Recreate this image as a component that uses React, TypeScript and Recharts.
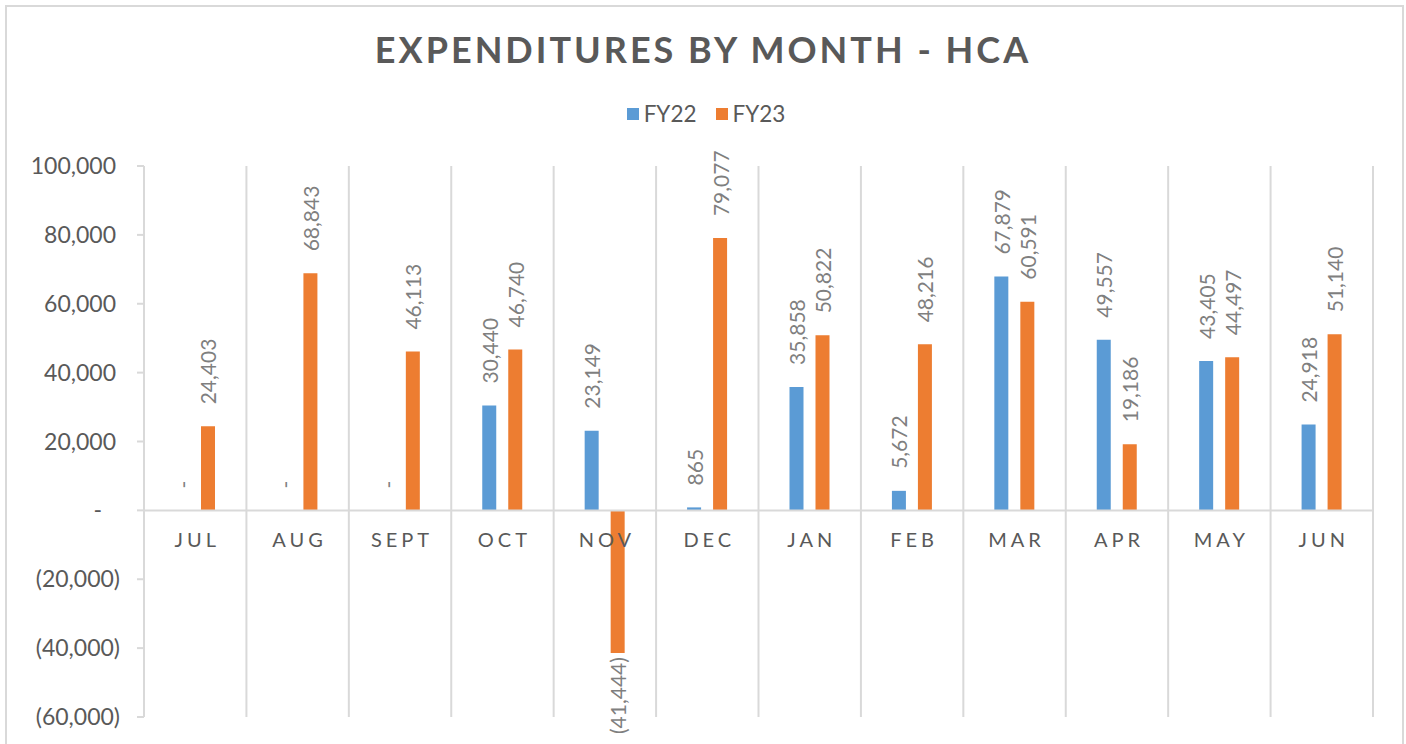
import React from 'react';
import {
  BarChart,
  Bar,
  XAxis,
  YAxis,
  CartesianGrid,
  ReferenceLine,
  LabelList,
} from 'recharts';

const months = ['JUL', 'AUG', 'SEPT', 'OCT', 'NOV', 'DEC', 'JAN', 'FEB', 'MAR', 'APR', 'MAY', 'JUN'];
const fy22 = [0, 0, 0, 30440, 23149, 865, 35858, 5672, 67879, 49557, 43405, 24918];
const fy23 = [24403, 68843, 46113, 46740, -41444, 79077, 50822, 48216, 60591, 19186, 44497, 51140];
const yTicks = [-60000, -40000, -20000, 0, 20000, 40000, 60000, 80000, 100000];
const series = [
  { key: 'fy22', name: 'FY22', color: '#5B9BD5', values: fy22 },
  { key: 'fy23', name: 'FY23', color: '#ED7D31', values: fy23 },
];

const data = months.map((m, i) => ({ month: m, fy22: fy22[i], fy23: fy23[i] }));

const W = 1406;
const H = 744;
const PLOT_TOP = 166;
const PLOT_BOTTOM = 717;
const PLOT_LEFT = 144;
const PLOT_RIGHT = 1373;
const Y_MIN = -60000;
const Y_MAX = 100000;
const ZERO_Y = PLOT_TOP + ((PLOT_BOTTOM - PLOT_TOP) * Y_MAX) / (Y_MAX - Y_MIN);
const BAR_SIZE = 14;
const BAR_GAP = 12;
const LABEL_GAP = 22;
const FONT = 'Lato, "Open Sans", sans-serif';
const GRID = '#d9d9d9';

const fmt = (v: number) => {
  if (v === 0) return '-';
  const s = Math.abs(v).toLocaleString('en-US');
  return v < 0 ? `(${s})` : s;
};

// rotated value label, reading bottom-to-top
const RotLabel = ({ cx, cy, anchor, text }: any) => (
  <text
    x={cx}
    y={cy}
    transform={`rotate(-90, ${cx}, ${cy})`}
    textAnchor={anchor}
    dominantBaseline="central"
    fill="#7f7f7f"
    fontSize={21}
    fontFamily={FONT}
  >
    {text}
  </text>
);

const YTick = (props: any) => {
  const { x, y, payload } = props;
  const v = payload.value;
  const dx = v < 0 ? 4 : v === 0 ? -14 : 0;
  return (
    <text x={x + dx} y={y + 8} textAnchor="end" fill="#595959" fontSize={23} fontFamily={FONT}>
      {fmt(v)}
    </text>
  );
};

// month name on the zero line; zero-height bars get their "-" label here
const XTick = (props: any) => {
  const { x, payload, index } = props;
  return (
    <g>
      <text
        x={x + 2}
        y={ZERO_Y + 37}
        textAnchor="middle"
        fill="#595959"
        fontSize={20}
        fontFamily={FONT}
        letterSpacing={4}
      >
        {payload.value}
      </text>
      {series.map((s, si) => {
        if (s.values[index] !== 0) return null;
        const off = (si - (series.length - 1) / 2) * (BAR_SIZE + BAR_GAP);
        return (
          <RotLabel key={s.key} cx={x + off} cy={ZERO_Y - LABEL_GAP} anchor="start" text="-" />
        );
      })}
    </g>
  );
};

const BarLabel = (props: any) => {
  const { x, y, width, height, value } = props;
  const v = Number(value);
  if (v === 0) return null;
  const cx = x + width / 2;
  if (v < 0) {
    return <RotLabel cx={cx} cy={Math.max(y, y + height) + 4} anchor="end" text={fmt(v)} />;
  }
  return <RotLabel cx={cx} cy={Math.min(y, y + height) - LABEL_GAP} anchor="start" text={fmt(v)} />;
};

export default function App() {
  return (
    <div
      style={{
        position: 'absolute',
        left: 0,
        top: 0,
        width: W,
        height: H,
        overflow: 'hidden',
        background: '#fff',
      }}
    >
      <div
        style={{
          position: 'absolute',
          left: 5,
          top: 5,
          width: 1395,
          height: 800,
          border: `2px solid ${GRID}`,
        }}
      />
      <div
        style={{
          position: 'absolute',
          left: 0,
          top: 27,
          width: W,
          textAlign: 'center',
          fontFamily: FONT,
          fontWeight: 700,
          fontSize: 36,
          letterSpacing: 3,
          color: '#595959',
        }}
      >
        EXPENDITURES BY MONTH - HCA
      </div>
      <div
        style={{
          position: 'absolute',
          left: 3,
          top: 100,
          width: W,
          display: 'flex',
          justifyContent: 'center',
          gap: 19,
          fontFamily: FONT,
          fontSize: 22.5,
          color: '#595959',
        }}
      >
        {series.map((s) => (
          <div key={s.key} style={{ display: 'flex', alignItems: 'center' }}>
            <span style={{ width: 12, height: 12, background: s.color, marginRight: 5 }} />
            <span>{s.name}</span>
          </div>
        ))}
      </div>
      <div style={{ position: 'absolute', left: 0, top: 0 }}>
        <BarChart
          width={W}
          height={H}
          data={data}
          margin={{ top: PLOT_TOP, right: W - PLOT_RIGHT, bottom: H - PLOT_BOTTOM - 20, left: 0 }}
          barSize={BAR_SIZE}
          barGap={BAR_GAP}
        >
          <CartesianGrid
            horizontal={false}
            stroke={GRID}
            strokeWidth={2}
            verticalCoordinatesGenerator={() =>
              Array.from(
                { length: months.length + 1 },
                (_, i) => PLOT_LEFT + (i * (PLOT_RIGHT - PLOT_LEFT)) / months.length
              )
            }
          />
          <XAxis
            dataKey="month"
            height={20}
            axisLine={false}
            tickLine={false}
            tick={<XTick />}
            interval={0}
          />
          <YAxis
            width={PLOT_LEFT}
            domain={[Y_MIN, Y_MAX]}
            ticks={yTicks}
            interval={0}
            axisLine={{ stroke: GRID, strokeWidth: 2 }}
            tickLine={{ stroke: GRID, strokeWidth: 2 }}
            tickSize={7}
            tickMargin={21}
            tick={<YTick />}
          />
          <ReferenceLine y={0} stroke={GRID} strokeWidth={2} />
          {series.map((s) => (
            <Bar key={s.key} dataKey={s.key} name={s.name} fill={s.color} isAnimationActive={false}>
              <LabelList dataKey={s.key} content={<BarLabel />} />
            </Bar>
          ))}
        </BarChart>
      </div>
    </div>
  );
}
